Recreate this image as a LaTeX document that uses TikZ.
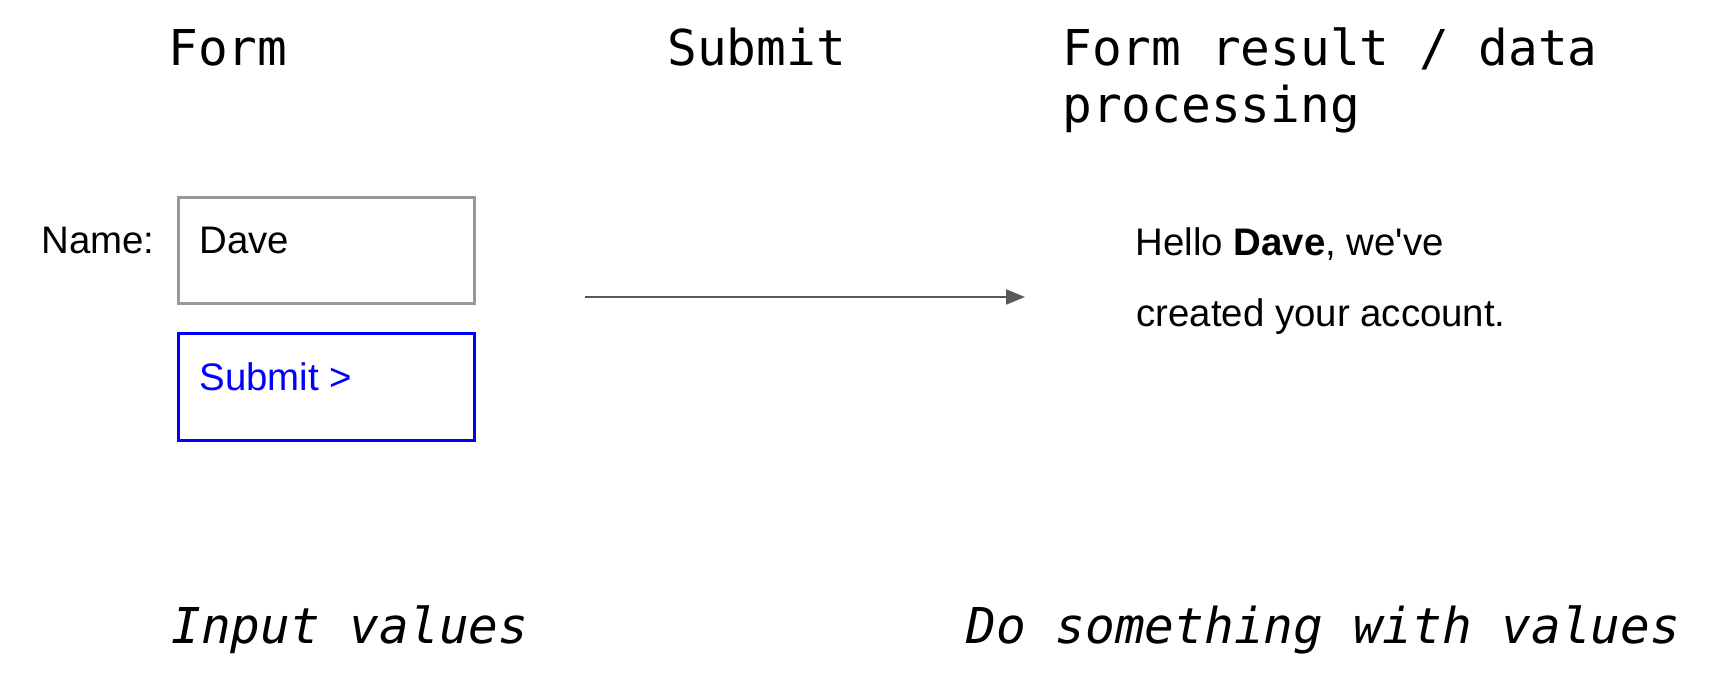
\documentclass[tikz,border=0pt]{standalone}
\usepackage{fontspec}
\usetikzlibrary{arrows.meta}
\newfontfamily\monofam{DejaVu Sans Mono}
\newfontfamily\arialfam{Liberation Sans}
\definecolor{boxgray}{HTML}{999999}
\definecolor{boxblue}{HTML}{0000FF}
\definecolor{arrowgray}{HTML}{595959}
\begin{document}
\begin{tikzpicture}[x=0.5pt,y=-0.5pt,
  title/.style={inner sep=0pt,anchor=base west,font=\monofam\fontsize{24.7pt}{28.5pt}\selectfont,align=left},
  note/.style={title,font=\monofam\itshape\fontsize{24.7pt}{28.5pt}\selectfont},
  label/.style={inner sep=0pt,anchor=base west,font=\arialfam\fontsize{19.2pt}{23pt}\selectfont},
  field/.style={draw=boxgray,line width=1.5pt,minimum width=148pt,minimum height=53pt,inner sep=0pt},
  button/.style={draw=boxblue,line width=1.5pt,minimum width=148pt,minimum height=53.5pt,inner sep=0pt},
  flow/.style={draw=arrowgray,line width=1pt,-{Triangle[length=9.5pt,width=7.5pt]}}]
\useasboundingbox (0,0) rectangle (1724,678);
% titles
\node[title] (tform) at (168,66) {Form};
\node[title] (tsubmit) at (667,66) {Submit};
\node[title] (tresult) at (1062,123) {Form result / data\\processing};
% form
\node[field] (namebox) at (326.5,251) {};
\node[button] (submitbox) at (326.5,387) {};
\node[label] (namelbl) at (41,254) {Name:};
\node[label] (dave) at (199,254) {Dave};
\node[label,text=boxblue] (submitlbl) at (199,391) {Submit >};
% arrow
\coordinate (astart) at (585,297);
\coordinate (aend) at (1025,297);
\draw[flow] (astart) -- (aend);
% result
\node[label] (hello) at (1135,256) {Hello \textbf{Dave}, we\textquotesingle ve};
\node[label] (created) at (1136,327) {created your account.};
% notes
\node[note] (ninput) at (171,643) {Input values};
\node[note] (ndo) at (966,643) {Do something with values};
\end{tikzpicture}
\end{document}
